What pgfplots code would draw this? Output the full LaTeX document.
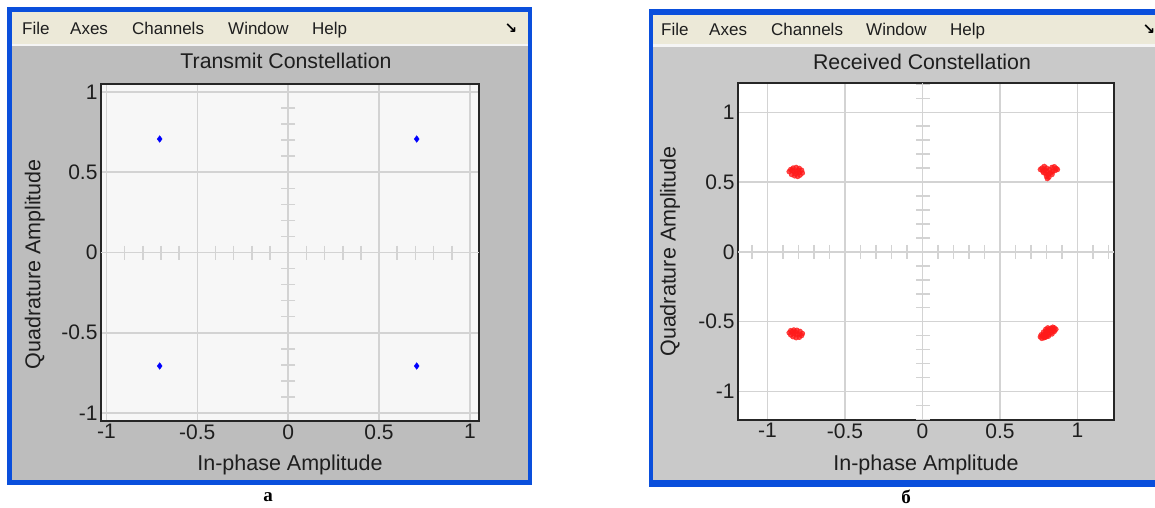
\documentclass[border=0pt]{standalone}
\usepackage{fontspec}
\setmainfont{Liberation Sans}
\newfontfamily\capfont{Liberation Serif}
\newfontfamily\symfont{DejaVu Sans}
\usepackage{pgfplots}
\pgfplotsset{compat=1.18}
\definecolor{xpblue}{HTML}{0A4FDC}
\definecolor{menubg}{HTML}{ECE9D8}
\definecolor{panelL}{HTML}{BDBDBD}
\definecolor{panelR}{HTML}{C9C9C9}
\definecolor{gridc}{HTML}{D3D3D3}
\definecolor{txt}{HTML}{1E1E1E}
\definecolor{axbgL}{HTML}{F7F7F7}
\definecolor{dotred}{HTML}{FF1A1A}

\pgfplotsset{
 winax/.style={
  scale only axis,
  axis line style={line width=1.8pt, black!85},
  xtick={-1,-0.5,0,0.5,1}, xticklabels={-1,-0.5,0,0.5,1},
  ytick={-1,-0.5,0,0.5,1}, yticklabels={-1,-0.5,0,0.5,1},
  major tick length=0pt,
  tick label style={font=\fontsize{21}{24}\selectfont, text=txt},
  label style={font=\fontsize{21.5}{24}\selectfont, text=txt},
  xlabel={In-phase Amplitude}, ylabel={Quadrature Amplitude},
  grid=major, grid style={gridc, line width=1.6pt},
  clip=true,
 },
 xhair/.style={gridc, line width=1.6pt},
 hticks/.style={only marks, color=gridc, mark=|, mark size=7pt, mark options={solid, line width=1.6pt}},
 vticks/.style={only marks, color=gridc, mark=-, mark size=7pt, mark options={solid, line width=1.6pt}},
}

\begin{document}
\begin{tikzpicture}[x=1pt,y=1pt]
\useasboundingbox (0,0) rectangle (1155,-507);
\fill[white] (0,0) rectangle (1155,-507);
\begin{scope}
\clip (0,0) rectangle (1155,-507);
% left window
\fill[xpblue] (7,-7) rectangle (532,-485);
\fill[menubg] (12,-12) rectangle (528,-44);
\fill[white!92!gray] (12,-44) rectangle (528,-46);
\fill[panelL] (12,-46) rectangle (528,-480);
% right window
\fill[xpblue] (649,-9) rectangle (1165,-487);
\fill[menubg] (653,-15) rectangle (1165,-44);
\fill[white!92!gray] (653,-44) rectangle (1165,-47);
\fill[panelR] (653,-47) rectangle (1165,-480);
\end{scope}

% menus
\begin{scope}[every node/.style={anchor=base west, inner sep=0pt, font=\fontsize{17}{20}\selectfont, text=txt}]
\node at (22,-34) {File};
\node at (70,-34) {Axes};
\node at (132,-34) {Channels};
\node at (228,-34) {Window};
\node at (312,-34) {Help};
\node at (661,-35) {File};
\node at (709,-35) {Axes};
\node at (771,-35) {Channels};
\node at (866,-35) {Window};
\node at (950,-35) {Help};
\end{scope}
\node[inner sep=0pt, font=\symfont\bfseries\fontsize{15}{16}\selectfont] at (511,-29) {↘};
\node[inner sep=0pt, font=\symfont\bfseries\fontsize{15}{16}\selectfont] at (1149,-30) {↘};

% titles
\node[anchor=base, inner sep=0pt, font=\fontsize{21.3}{24}\selectfont, text=txt] at (286,-68) {Transmit Constellation};
\node[anchor=base, inner sep=0pt, font=\fontsize{21.3}{24}\selectfont, text=txt] at (922,-69) {Received Constellation};

% captions
\node[inner sep=0pt, font=\capfont\bfseries\fontsize{19}{20}\selectfont] at (268,-497) {а};
\node[inner sep=0pt, font=\capfont\bfseries\fontsize{19}{20}\selectfont] at (906,-497) {б};

% left axis
\begin{axis}[winax,
  at={(101pt,-84pt)}, anchor=north west,
  width=378pt, height=337pt,
  xmin=-1.03, xmax=1.05, ymin=-1.05, ymax=1.05,
  axis background/.style={fill=axbgL},
  xlabel style={at={(axis description cs:0.5,-0.13)}, anchor=center},
  ylabel style={at={(axis description cs:-0.175,0.465)}, anchor=center},
]
\addplot[xhair] coordinates {(-1.03,0) (1.05,0)};
\addplot[xhair] coordinates {(0,-0.93) (0,0.93)};
\addplot[hticks] coordinates {(-1,0)(-0.9,0)(-0.8,0)(-0.7,0)(-0.6,0)(-0.5,0)(-0.4,0)(-0.3,0)(-0.2,0)(-0.1,0)(0.1,0)(0.2,0)(0.3,0)(0.4,0)(0.5,0)(0.6,0)(0.7,0)(0.8,0)(0.9,0)(1,0)};
\addplot[vticks] coordinates {(0,-0.9)(0,-0.8)(0,-0.7)(0,-0.6)(0,-0.5)(0,-0.4)(0,-0.3)(0,-0.2)(0,-0.1)(0,0.1)(0,0.2)(0,0.3)(0,0.4)(0,0.5)(0,0.6)(0,0.7)(0,0.8)(0,0.9)};
\addplot[only marks, color=blue, mark=diamond*, mark size=3.3pt, mark options={solid, fill=blue, draw=blue}]
  coordinates {(-0.7071,0.7071)(0.7071,0.7071)(-0.7071,-0.7071)(0.7071,-0.7071)};
\end{axis}

% right axis
\begin{axis}[winax,
  at={(738pt,-83pt)}, anchor=north west,
  width=376pt, height=337pt,
  xmin=-1.19, xmax=1.235, ymin=-1.205, ymax=1.21,
  axis background/.style={fill=white},
  xlabel style={at={(axis description cs:0.5,-0.133)}, anchor=center},
  ylabel style={at={(axis description cs:-0.181,0.5)}, anchor=center},
]
\addplot[xhair] coordinates {(-1.19,0) (1.235,0)};
\addplot[xhair] coordinates {(0,-1.205) (0,1.21)};
\addplot[hticks] coordinates {(-1.1,0)(-1,0)(-0.9,0)(-0.8,0)(-0.7,0)(-0.6,0)(-0.5,0)(-0.4,0)(-0.3,0)(-0.2,0)(-0.1,0)(0.1,0)(0.2,0)(0.3,0)(0.4,0)(0.5,0)(0.6,0)(0.7,0)(0.8,0)(0.9,0)(1,0)(1.1,0)(1.2,0)};
\addplot[vticks] coordinates {(0,-1.2)(0,-1.1)(0,-1)(0,-0.9)(0,-0.8)(0,-0.7)(0,-0.6)(0,-0.5)(0,-0.4)(0,-0.3)(0,-0.2)(0,-0.1)(0,0.1)(0,0.2)(0,0.3)(0,0.4)(0,0.5)(0,0.6)(0,0.7)(0,0.8)(0,0.9)(0,1)(0,1.1)(0,1.2)};
\addplot[only marks, color=dotred, mark=*, mark size=2.5pt, mark options={solid, fill=dotred, draw=dotred, opacity=0.8}]
  coordinates {
  (0.770,0.600)(0.785,0.612)(0.800,0.600)(0.790,0.585)(0.775,0.580)(0.805,0.575)(0.820,0.590)(0.835,0.605)(0.850,0.610)(0.862,0.598)(0.855,0.583)(0.840,0.575)(0.825,0.565)(0.810,0.555)(0.795,0.560)(0.800,0.540)(0.815,0.535)(0.805,0.525)(0.780,0.568)(0.835,0.555)(0.760,0.590)(0.870,0.590)
  (-0.860,0.575)(-0.850,0.590)(-0.835,0.600)(-0.815,0.605)(-0.795,0.598)(-0.780,0.585)(-0.775,0.565)(-0.790,0.550)(-0.805,0.540)(-0.825,0.545)(-0.845,0.555)(-0.830,0.575)(-0.810,0.575)(-0.795,0.570)(-0.820,0.560)(-0.840,0.585)(-0.800,0.585)
  (-0.860,-0.580)(-0.850,-0.565)(-0.830,-0.560)(-0.810,-0.562)(-0.790,-0.570)(-0.775,-0.585)(-0.780,-0.600)(-0.795,-0.612)(-0.815,-0.615)(-0.835,-0.608)(-0.850,-0.595)(-0.830,-0.585)(-0.810,-0.590)(-0.795,-0.590)(-0.820,-0.575)(-0.840,-0.572)
  (0.760,-0.610)(0.775,-0.600)(0.790,-0.590)(0.805,-0.580)(0.820,-0.565)(0.835,-0.552)(0.850,-0.545)(0.860,-0.555)(0.845,-0.565)(0.830,-0.578)(0.815,-0.592)(0.800,-0.605)(0.785,-0.615)(0.770,-0.620)(0.795,-0.570)(0.825,-0.548)(0.840,-0.540)(0.780,-0.595)(0.810,-0.560)
  (0.780,-0.575)(0.795,-0.555)(0.850,-0.570)(0.835,-0.588)(0.812,-0.604)(0.792,-0.612)(0.765,-0.595)(0.808,-0.545)
  };
\end{axis}
\end{tikzpicture}
\end{document}
